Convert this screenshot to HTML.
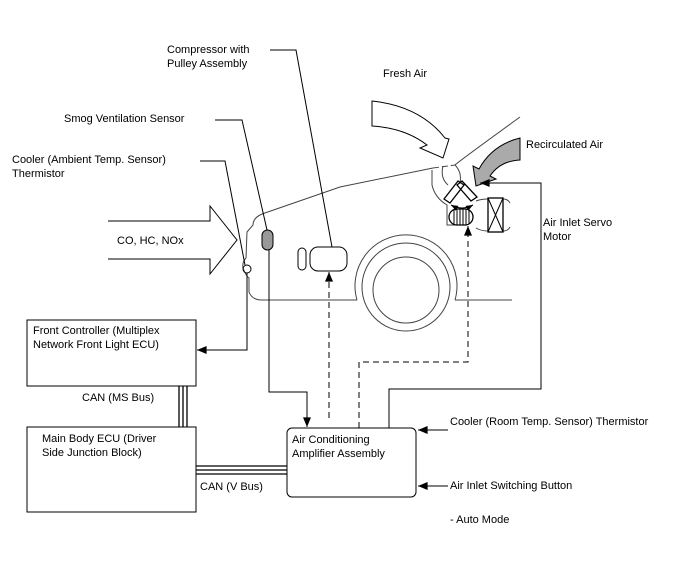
<!DOCTYPE html>
<html><head><meta charset="utf-8"><style>
body{margin:0;background:#fff}
svg text{font-family:"Liberation Sans",Arial,sans-serif;font-size:11px;fill:#000}
</style></head><body>
<svg width="688" height="560" viewBox="0 0 688 560" xmlns="http://www.w3.org/2000/svg">
<defs>
<marker id="a" viewBox="0 0 10 10" refX="10" refY="5" markerWidth="7" markerHeight="7" orient="auto-start-reverse" markerUnits="userSpaceOnUse"><path d="M0,1 L10,5 L0,9 Z" fill="#000"/></marker>
<marker id="b" viewBox="0 0 12 10" refX="12" refY="5" markerWidth="12" markerHeight="8" orient="auto" markerUnits="userSpaceOnUse"><path d="M0,0 L12,5 L0,10 Z" fill="#000"/></marker>
</defs>
<g fill="none" stroke="#000" stroke-width="1">
<!-- car body -->
<path d="M433,168 L340,187 L262,214 Q253,218 253,225 L247,232 L246,258 Q242,262 243,268 Q246,276 249,278 L249,292 Q252,300 262,300 L357,300" stroke="#444"/>
<path d="M455,165 Q458,162 520,117" stroke="#444"/>
<path d="M433,168 L455,165" stroke-dasharray="6,3" stroke="#444"/>
<circle cx="247" cy="269" r="4"/>
<path d="M357,300 A51,51 0 1 1 455,300" stroke="#444"/>
<path d="M455,300 L512,300" stroke="#444"/>
<circle cx="406" cy="287" r="44" stroke="#444"/>
<circle cx="406" cy="290" r="33" stroke="#444"/>
<!-- duct -->
<path d="M432,170 L432,185 Q435,198 447,205 L447,225 L460,225" stroke="#444"/>
<path d="M443,166 Q440,178 448,185 M455,165 Q462,172 460,183" stroke="#444"/>
<!-- damper plates -->
<path d="M444,199 L458,181 L464,185 L450,203 Z M462,181 L477,197 L471,201 L457,185 Z" stroke-width="1.3"/>
<path d="M451,205 Q462,211 473,205" marker-start="url(#a)" marker-end="url(#a)"/>
<rect x="449" y="209" width="24" height="16" rx="8" stroke-width="1.3"/>
<path d="M454,210v14M457,209v16M460,209v16M463,209v16M466,209v16M469,210v14"/>
<path d="M476,201 Q481,199 488,199 M476,228 Q481,231 488,231 M503,199 Q508,199 510,203 M503,231 Q508,231 510,227" stroke="#444"/>
<rect x="488" y="198" width="15" height="34" stroke-width="1.3"/>
<path d="M488,198 L503,232 M503,198 L488,232"/>
<!-- fresh air arrow -->
<path d="M372,101 Q420,106 445,138 L449,139 L443,158 L420,148 L427,145 Q405,128 372,126 Z" fill="#fff"/>
<!-- recirculated arrow -->
<path d="M520,138 L520,160 Q500,161 490,176 L496,179 L476,186 L473,166 L479,169 Q492,145 520,138 Z" fill="#aaa"/>
<!-- CO arrow -->
<path d="M108,221 L210,221 L210,206 L237,240 L210,274 L210,259 L108,259" fill="#fff"/>
<!-- sensors -->
<rect x="262" y="230" width="11" height="20" rx="5.5" fill="#999"/>
<rect x="298" y="248" width="8" height="22" rx="4"/>
<rect x="310" y="247" width="37" height="24" rx="8"/>
<!-- leader lines -->
<path d="M270,50 L296,50 L332,247"/>
<path d="M215,120 L242,120 L267,230"/>
<path d="M200,161 L225,161 L245,265"/>
<!-- connections -->
<path d="M247,273 L247,350 L197,350" marker-end="url(#b)"/>
<path d="M269,250 L269,392 L307,392 L307,427" marker-end="url(#b)"/>
<path d="M329,418 L329,272" stroke-dasharray="6,4" marker-end="url(#b)"/>
<path d="M359,428 L359,362 L468,362 L468,226" stroke-dasharray="6,4" marker-end="url(#b)"/>
<path d="M389,428 L389,389 L541,389 L541,183 L480,183" marker-end="url(#b)"/>
<path d="M448,430 L418,430" marker-end="url(#b)"/>
<path d="M448,486 L418,486" marker-end="url(#b)"/>
<!-- boxes -->
<rect x="27" y="320" width="169" height="66"/>
<rect x="27" y="427" width="169" height="85"/>
<rect x="287" y="428" width="129" height="69" rx="5"/>
<!-- buses -->
<path d="M179,386v41M183,386v41M187,386v41" stroke-width="1.3"/>
<path d="M196,466h91M196,470h91M196,474h91" stroke-width="1.3"/>
</g>
<text x="167" y="53">Compressor with</text>
<text x="167" y="67">Pulley Assembly</text>
<text x="383" y="77">Fresh Air</text>
<text x="64" y="122">Smog Ventilation Sensor</text>
<text x="12" y="163">Cooler (Ambient Temp. Sensor)</text>
<text x="12" y="177">Thermistor</text>
<text x="526" y="148">Recirculated Air</text>
<text x="543" y="226">Air Inlet Servo</text>
<text x="543" y="240">Motor</text>
<text x="117" y="244">CO, HC, NOx</text>
<text x="33" y="334">Front Controller (Multiplex</text>
<text x="33" y="348">Network Front Light ECU)</text>
<text x="82" y="401">CAN (MS Bus)</text>
<text x="42" y="442">Main Body ECU (Driver</text>
<text x="42" y="456">Side Junction Block)</text>
<text x="200" y="490">CAN (V Bus)</text>
<text x="292" y="443">Air Conditioning</text>
<text x="292" y="457">Amplifier Assembly</text>
<text x="450" y="425">Cooler (Room Temp. Sensor) Thermistor</text>
<text x="450" y="489">Air Inlet Switching Button</text>
<text x="450" y="523">- Auto Mode</text>
</svg>
</body></html>
